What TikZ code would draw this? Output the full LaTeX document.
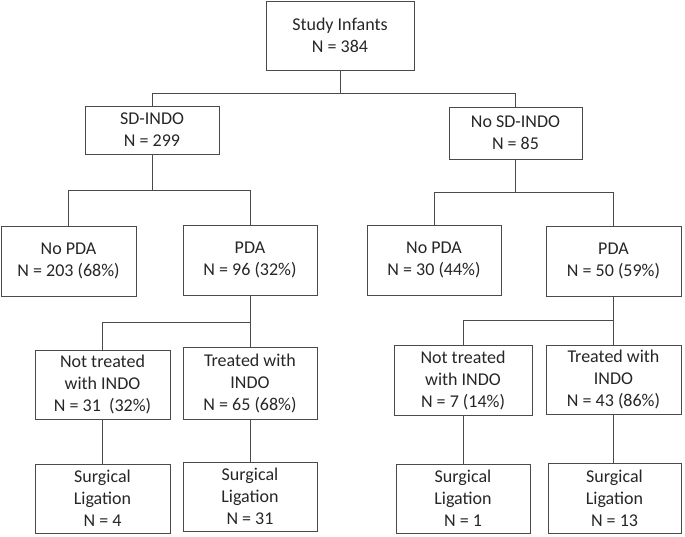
\documentclass[tikz,border=0pt]{standalone}
\usepackage{fontspec}
\setmainfont{Carlito}
\usetikzlibrary{positioning}
\definecolor{flowLine}{HTML}{4A4A4A}
\definecolor{flowText}{HTML}{262626}

\begin{document}
\begin{tikzpicture}[x=1pt, y=-1pt,
      box/.style={draw=flowLine, line width=1pt, align=center, inner sep=0pt,
        text=flowText, font=\fontsize{18}{22}\selectfont},
      link/.style={draw=flowLine, line width=1pt}]
    \useasboundingbox (0,0) rectangle (685,536);
    \node[box, minimum width=148pt, minimum height=69pt] (infants) at (340,35.5) {Study Infants\\N = 384};
    \node[box, minimum width=134pt, minimum height=48pt] (sdindo) at (152,130) {SD-INDO\\N = 299};
    \node[box, minimum width=133pt, minimum height=52pt] (nosdindo) at (515.5,133) {No SD-INDO\\N = 85};

    \node[box, minimum width=135pt, minimum height=70pt] (nopdaL) at (68.5,261) {No PDA\\N = 203 (68\%)};
    \node[box, minimum width=134pt, minimum height=70pt] (pdaL) at (250,260) {PDA\\N = 96 (32\%)};
    \node[box, minimum width=134pt, minimum height=70pt] (nopdaR) at (434,260) {No PDA\\N = 30 (44\%)};
    \node[box, minimum width=135pt, minimum height=70pt] (pdaR) at (613.5,261) {PDA\\N = 50 (59\%)};

    \node[box, minimum width=135pt, minimum height=69pt] (notreatL) at (102.5,384.5) {Not treated\\with INDO\\N = 31\ \ (32\%)};
    \node[box, minimum width=134pt, minimum height=72pt] (treatL) at (250,383) {Treated with\\INDO\\N = 65 (68\%)};
    \node[box, minimum width=138pt, minimum height=70pt] (notreatR) at (463,380) {Not treated\\with INDO\\N = 7 (14\%)};
    \node[box, minimum width=135pt, minimum height=69pt] (treatR) at (613.5,379.5) {Treated with\\INDO\\N = 43 (86\%)};

    \node[box, minimum width=135pt, minimum height=69pt] (ligA) at (102.5,498.5) {Surgical\\Ligation\\N = 4};
    \node[box, minimum width=134pt, minimum height=69pt] (ligB) at (250,496.5) {Surgical\\Ligation\\N = 31};
    \node[box, minimum width=134pt, minimum height=69pt] (ligC) at (463,498.5) {Surgical\\Ligation\\N = 1};
    \node[box, minimum width=133pt, minimum height=70pt] (ligD) at (614.5,498) {Surgical\\Ligation\\N = 13};

    \draw[link] (infants.south) -- ++(0,23) coordinate (bus0);
    \draw[link] (sdindo.north) |- (bus0) -| (nosdindo.north);
    \draw[link] (sdindo.south) -- ++(0,36) coordinate (busL);
    \draw[link] (nopdaL.north) |- (busL) -| (pdaL.north);
    \draw[link] (nosdindo.south) -- ++(0,33) coordinate (busR);
    \draw[link] (nopdaR.north) |- (busR) -| (pdaR.north);
    \draw[link] (pdaL.south) -- ++(0,27) coordinate (busLL);
    \draw[link] (notreatL.north) |- (busLL) -- (treatL.north);
    \draw[link] (pdaR.south) -- ++(0,24) coordinate (busRR);
    \draw[link] (notreatR.north) |- (busRR) -- (treatR.north);
    \draw[link] (notreatL) -- (ligA);
    \draw[link] (treatL) -- (ligB);
    \draw[link] (notreatR) -- (ligC);
    \draw[link] (treatR.south) -- (treatR.south |- ligD.north);
  \end{tikzpicture}
\end{document}
